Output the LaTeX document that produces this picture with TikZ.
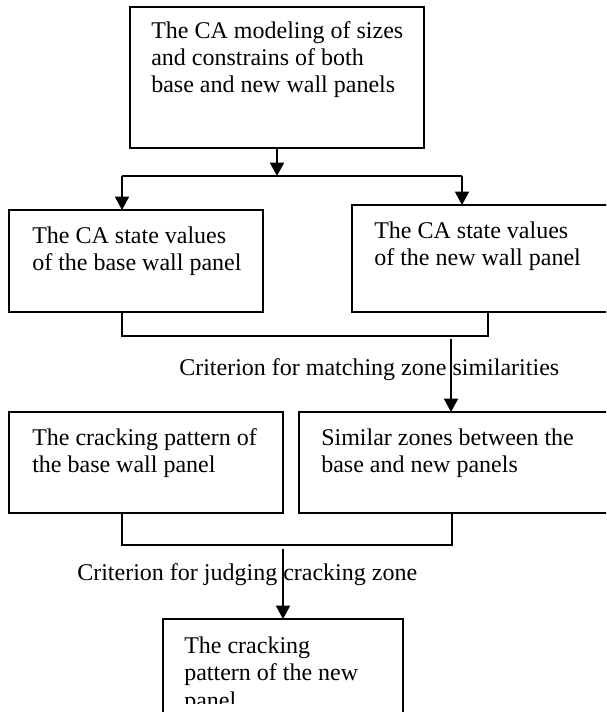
\documentclass[tikz,border=0pt]{standalone}
\usepackage{fontspec}
\setmainfont{Liberation Serif}
\usetikzlibrary{arrows.meta}
\begin{document}
\begin{tikzpicture}[x=0.75pt,y=-0.75pt,
  box/.style={draw, line width=1.6pt, rectangle, anchor=north west, inner sep=0pt, outer sep=0pt},
  txt/.style={anchor=base west, inner sep=0pt, align=left, font=\fontsize{18pt}{20.6pt}\selectfont},
  conn/.style={line width=1.2pt},
  arr/.style={conn, -{Triangle[width=10.5pt,length=10pt]}}]
\useasboundingbox (0,0) rectangle (606,712);
\clip (0,0) rectangle (606,712);
% boxes
\node[box, minimum width=220.5pt, minimum height=105.75pt] (top) at (130,7) {};
\node[box, minimum width=190.5pt, minimum height=76.5pt] (lbox) at (9,210) {};
\node[box, minimum width=201pt, minimum height=80.25pt] (rbox) at (352,205) {};
\node[box, minimum width=205.5pt, minimum height=75.75pt] (llbox) at (9,412) {};
\node[box, minimum width=240.75pt, minimum height=75.75pt] (lrbox) at (299,412) {};
\node[box, minimum width=180pt, minimum height=83.25pt] (bbox) at (163,619) {};
% texts (anchored at the baseline of the last line)
\node[txt] (ttop) at (151,93) {The CA modeling of sizes\\and constrains of both\\base and new wall panels};
\node[txt] (tl) at (32,270.5) {The CA state values\\of the base wall panel};
\node[txt] (tr) at (374,265.5) {The CA state values\\of the new wall panel};
\node[txt] (tll) at (32,472.5) {The cracking pattern of\\the base wall panel};
\node[txt] (tlr) at (321,472.5) {Similar zones between the\\base and new panels};
\begin{scope}
\clip (163,619) rectangle (403,703);
\node[txt] (tb) at (184,708) {The cracking\\pattern of the new\\panel};
\end{scope}
\node[txt] (lab1) at (179,375) {Criterion for matching zone similarities};
\node[txt] (lab2) at (77,580) {Criterion for judging cracking zone};
% connectors
\coordinate (j1) at (277,176);
\coordinate (hl) at (122,176);
\coordinate (hr) at (462,176);
\draw[arr] (top.south) -- (j1);
\draw[conn] (hl) -- (hr);
\draw[arr] (hl) -- (hl |- lbox.north);
\draw[arr] (hr) -- (hr |- rbox.north);
\coordinate (b1l) at (122,336);
\coordinate (b1r) at (488,336);
\draw[conn] (b1l |- lbox.south) -- (b1l) -- (b1r) -- (b1r |- rbox.south);
\coordinate (a2) at (451,339);
\draw[arr] (a2) -- (a2 |- lrbox.north);
\coordinate (b2l) at (122,545);
\coordinate (b2r) at (452,545);
\draw[conn] (b2l |- llbox.south) -- (b2l) -- (b2r) -- (b2r |- lrbox.south);
\coordinate (a3) at (283,549);
\draw[arr] (a3) -- (a3 |- bbox.north);
\end{tikzpicture}
\end{document}
